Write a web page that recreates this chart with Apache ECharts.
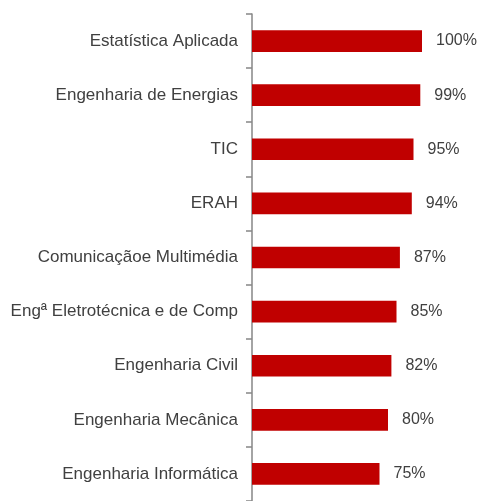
<!DOCTYPE html>
<html>
<head>
<meta charset="utf-8">
<script src="https://cdn.jsdelivr.net/npm/echarts@6/dist/echarts.min.js"></script>
<style>
  html, body { margin: 0; padding: 0; background: #fff; }
</style>
</head>
<body>
<div id="main" style="width: 480px;height:501px;"></div>
<script>
var cursos = ['Estatística Aplicada', 'Engenharia de Energias', 'TIC', 'ERAH',
    'Comunicaçãoe Multimédia', 'Engª Eletrotécnica e de Comp', 'Engenharia Civil',
    'Engenharia Mecânica', 'Engenharia Informática'];
var taxa = [100, 99, 95, 94, 87, 85, 82, 80, 75];

var myChart = echarts.init(document.getElementById('main'));
myChart.setOption({
    animation: false,
    grid: {
        left: 252,
        top: 14,
        width: 170,
        height: 493
    },
    xAxis: {
        type: 'value',
        min: 0,
        max: 100,
        show: false
    },
    yAxis: {
        type: 'category',
        inverse: true,
        data: cursos,
        axisLine: { show: true, lineStyle: { color: '#868686', width: 1.5 } },
        axisTick: { show: true, length: 6, lineStyle: { color: '#868686', width: 1.5 } },
        axisLabel: {
            margin: 14,
            color: '#404040',
            fontFamily: 'Liberation Sans',
            fontSize: 17
        }
    },
    series: [{
        type: 'bar',
        data: taxa,
        barCategoryGap: '60%',
        itemStyle: { color: '#C00000' },
        label: {
            show: true,
            position: 'right',
            distance: 14,
            formatter: '{c}%',
            color: '#404040',
            fontFamily: 'Liberation Sans',
            fontSize: 16
        }
    }]
});
</script>
</body>
</html>
